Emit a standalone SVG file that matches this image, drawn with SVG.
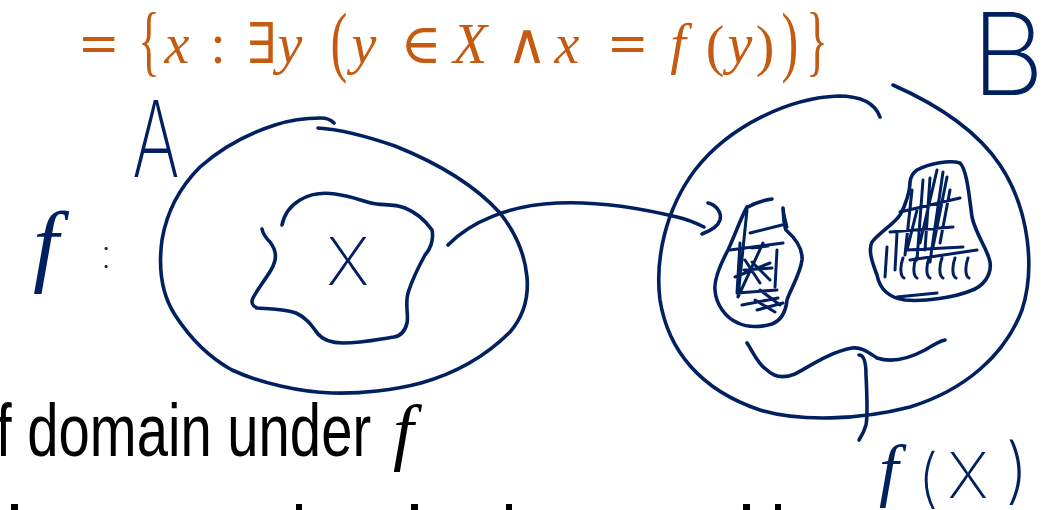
<svg xmlns="http://www.w3.org/2000/svg" width="1051" height="510" viewBox="0 0 1051 510">
<style>
.ink{fill:none;stroke:#002060;stroke-width:3.6;stroke-linecap:round;stroke-linejoin:round}
.hatch{fill:none;stroke:#002060;stroke-width:3;stroke-linecap:round;stroke-linejoin:round}
.m{font-family:"Liberation Serif","DejaVu Serif",serif;font-size:56px;fill:#C55A11;text-anchor:middle}
.mi{font-style:italic}
.hand{font-family:Inter,Lato,"DejaVu Sans",sans-serif;font-weight:200;fill:#002060;text-anchor:middle}
.handf{font-family:"Liberation Serif","DejaVu Serif",serif;font-style:italic;fill:#002060}
.body{font-family:"Liberation Sans",Arial,sans-serif;font-size:74px;fill:#000}
.bodyf{font-family:"Liberation Serif","DejaVu Serif",serif;font-style:italic;font-size:74px;fill:#000}
</style>
<g id="formula">
<text class="m" font-weight="bold" transform="translate(99,63) scale(1.2,1)">=</text>
<text class="m" transform="translate(149,67) scale(0.8,1.38)">{</text>
<text class="m mi" x="177" y="63">x</text>
<text class="m" x="218" y="63">:</text>
<text class="m" x="262" y="63">∃</text>
<text class="m mi" x="290" y="63">y</text>
<text class="m" transform="translate(339,67) scale(0.9,1.38)">(</text>
<text class="m mi" x="364" y="63">y</text>
<text class="m" x="421" y="63">∈</text>
<text class="m mi" x="470" y="63">X</text>
<text class="m" x="527" y="63">∧</text>
<text class="m mi" x="567" y="63">x</text>
<text class="m" font-weight="bold" transform="translate(628,63) scale(1.2,1)">=</text>
<text class="m mi" x="678" y="63">f</text>
<text class="m" x="715" y="65">(</text>
<text class="m mi" x="740" y="63">y</text>
<text class="m" x="765" y="65">)</text>
<text class="m" transform="translate(790,67) scale(0.9,1.38)">)</text>
<text class="m" transform="translate(817,67) scale(0.8,1.38)">}</text>
</g>
<g id="setA">
<path class="ink" d="M318,128 C335,129 360,134 395,146 C430,160 470,180 500,213 C515,232 525,255 527,277 C529,300 522,318 510,332 C490,352 460,372 421,383 C395,390 360,394 332,393 C300,392 260,383 232,370 C210,358 190,338 175,315 C162,295 158,270 162,240 C167,210 182,185 200,167 C225,145 250,133 275,125 C290,120 305,118 321,118 C327,118 331,120 334,123"/>
<text class="hand" font-size="106" transform="translate(156,177) scale(0.68,1)">A</text>
</g>
<g id="label-f">
<text class="handf" font-size="92" x="33" y="275">f</text>
<text class="hand" font-size="40" x="106" y="268">:</text>
</g>
<g id="setX">
<path class="ink" d="M282,225 C284,215 290,206 300,200 C310,194 321,192 335,194 C350,196 360,200 371,203 C382,206 392,203 405,208 C415,212 425,220 432,230 C434,240 430,250 425,255 C419,266 413,278 409,290 C404,302 409,315 407,323 C405,332 400,336 394,337 C380,339 362,343 343,343 C330,343 323,340 318,334 C312,326 307,318 296,313 C285,309 270,309 257,308 C252,306 251,302 253,298 C257,290 265,280 271,270 C278,258 276,250 270,242 C266,238 263,234 262,229"/>
<text class="hand" font-size="66" x="348" y="285">X</text>
</g>
<g id="setB">
<path class="ink" d="M880,117 C875,103 860,96 838,96 C790,98 730,125 695,170 C665,210 655,260 660,300 C668,350 700,390 760,410 C800,422 860,420 910,407 C965,390 1005,355 1022,310 C1035,270 1030,210 1000,165 C980,135 945,108 893,85"/>
<text class="hand" font-size="114" x="1008" y="95">B</text>
</g>
<g id="image-left">
<path class="ink" d="M747,207 C742,215 735,235 728,250 C720,265 714,280 715,290 C716,305 726,318 738,323 C748,328 762,327 772,324 C782,320 786,310 787,300 C790,290 800,275 802,260 C803,248 795,238 786,230 C783,222 784,215 783,208"/>
<path class="ink" d="M748,207 C755,203 765,200 772,199"/>
<path class="hatch" d="M747,210 L738,297 M740,243 L737,293 M750,233 L782,225 M730,250 L783,243 M735,277 L770,263 M763,243 L738,297 M777,250 L775,287 M737,293 L777,290 M757,310 L783,303 M760,290 L780,305 M745,260 L760,283 M783,210 L787,227 M752,248 L768,246 M742,305 L778,298 M752,262 L770,280 M744,270 L772,268 M755,300 L775,312"/>
</g>
<g id="image-right">
<path class="ink" d="M917,170 C930,163 950,160 960,163 C967,170 969,195 972,217 C976,235 988,250 990,262 C992,275 983,287 970,291 C955,297 925,302 905,300 C890,298 880,290 877,275 C872,262 868,250 872,242 C880,232 893,225 900,215 C906,205 910,190 910,182 C911,175 914,172 917,170"/>
<path class="hatch" d="M937,170 L920,243 M947,177 L933,247 M923,180 L917,260 M950,190 L940,243 M917,210 L907,250 M930,178 L925,250 M912,190 L905,255 M943,172 L930,262 M900,212 L960,198 M890,232 L953,227 M907,250 L963,247 M910,260 L977,250 M897,233 L895,270 M887,247 L885,277 M903,258 C900,266 900,276 904,278 M916,258 C913,266 913,276 917,278 M929,258 C926,266 926,276 930,278 M942,258 C939,266 939,276 943,278 M955,258 C952,266 952,276 956,278 M968,258 C965,266 965,276 969,278 M897,297 L937,293"/>
</g>
<g id="brace-fX">
<path class="ink" d="M747,343 C752,350 758,365 767,370 C775,378 785,378 795,374 C810,366 830,352 852,348 C862,347 868,352 877,358 C892,363 910,358 925,350 C933,345 940,341 945,340"/>
<path class="ink" d="M859,355 C863,355 866,360 866,375 C867,395 868,415 866,425 C864,432 861,437 859,440"/>
<text class="handf" font-size="70" x="879" y="493">f</text>
<text class="hand" font-size="64" x="928" y="500">(</text>
<text class="hand" font-size="63" x="968" y="498">X</text>
<text class="hand" font-size="72" x="1017" y="495">)</text>
</g>
<g id="connectors">
<path class="ink" d="M448,245 C470,222 510,205 557,203 C600,201 640,208 677,217 C690,220 698,224 704,227"/>
<path class="ink" d="M708,203 C716,205 722,212 720,220 C718,227 710,231 702,234"/>
</g>
<g id="caption">
<text class="body" transform="translate(-4,456) scale(0.76,1)">f domain under</text>
<text class="bodyf" x="393" y="456">f</text>
<g fill="#000">
<rect x="11" y="504" width="7" height="6"/>
<rect x="296" y="504" width="6" height="6"/>
<rect x="411" y="504" width="7" height="6"/>
<rect x="506" y="504" width="6" height="6"/>
<rect x="743" y="504" width="7" height="6"/>
<rect x="775" y="504" width="6" height="6"/>
</g>
</g>
</svg>
